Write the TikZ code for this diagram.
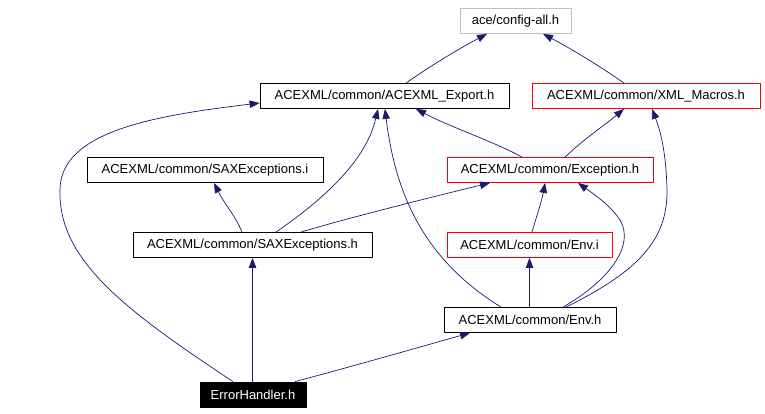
\documentclass[tikz,border=0pt]{standalone}
\usepackage{fontspec}
\setmainfont{Liberation Sans}
\usetikzlibrary{arrows.meta}
\definecolor{edgeblue}{RGB}{25,25,112}
\definecolor{extgray}{RGB}{191,191,191}
\begin{document}
\begin{tikzpicture}[x=1pt, y=-1pt, font=\fontsize{13}{15}\selectfont, line join=round,
		>={Triangle[length=10pt,width=7.5pt]},
		file/.style={draw=black, line width=0.8pt, minimum height=25pt, inner sep=0pt},
		redfile/.style={file, draw=red},
		extfile/.style={file, draw=extgray},
		mainfile/.style={file, fill=black, text=white},
		dep/.style={->, edgeblue, line width=0.7pt}]
	\useasboundingbox (0,0) rectangle (765,413);
	% files
	\node[extfile, minimum width=111pt] (cfg) at (515.5,21) {ace/config-all.h};
	\node[file, minimum width=249pt] (export) at (384.5,96) {ACEXML/common/ACEXML\_Export.h};
	\node[redfile, minimum width=228pt] (macros) at (646,96) {ACEXML/common/XML\_Macros.h};
	\node[file, minimum width=236pt] (saxi) at (205,170) {ACEXML/common/SAXExceptions.i};
	\node[redfile, minimum width=206pt] (exc) at (550,170) {ACEXML/common/Exception.h};
	\node[file, minimum width=239pt] (saxh) at (252.5,245) {ACEXML/common/SAXExceptions.h};
	\node[redfile, minimum width=165pt] (envi) at (529.5,245) {ACEXML/common/Env.i};
	\node[file, minimum width=172pt] (envh) at (530,320) {ACEXML/common/Env.h};
	\node[mainfile, minimum width=106pt] (eh) at (253,394.5) {ErrorHandler.h};
	% includes
	\draw[dep] ([xshift=21.5pt]export.north) .. controls (430,66) and (462,47) .. ([xshift=-28.5pt]cfg.south);
	\draw[dep] ([xshift=-22pt]macros.north) .. controls (600,66) and (568,47) .. ([xshift=27.5pt]cfg.south);
	\draw[dep] ([xshift=-20pt]eh.north) .. controls (125,310) and (58,260) .. (60,190)
		.. controls (60,130) and (160,115) .. ([yshift=-7pt]export.west);
	\draw[dep] ([xshift=23.5pt]saxh.north) .. controls (315,205) and (365,165) .. ([xshift=-6.5pt]export.south);
	\draw[dep] ([xshift=-29pt]envh.north) .. controls (428,262) and (396,200) .. ([xshift=0.5pt]export.south);
	\draw[dep] ([xshift=-28pt]exc.north) .. controls (495,142) and (450,127) .. ([xshift=31.5pt]export.south);
	\draw[dep] ([xshift=15pt]exc.north) .. controls (585,138) and (605,125) .. ([xshift=-22pt]macros.south);
	\draw[dep] ([xshift=36pt]envh.north) .. controls (630,275) and (668,245) .. (667,190)
		.. controls (666,150) and (660,130) .. ([xshift=6pt]macros.south);
	\draw[dep] ([xshift=-10.5pt]saxh.north) .. controls (235,215) and (225,205) .. ([xshift=9pt]saxi.south);
	\draw[dep] ([xshift=48.5pt]saxh.north) .. controls (340,220) and (440,195) .. ([xshift=-60pt]exc.south);
	\draw[dep] ([xshift=2.5pt]envi.north) .. controls (537,215) and (542,200) .. ([xshift=-5pt]exc.south);
	\draw[dep] ([xshift=33pt]envh.north) .. controls (610,280) and (635,245) .. (620,220)
		.. controls (610,205) and (595,195) .. ([xshift=28pt]exc.south);
	\draw[dep] (envh.north -| envi.south) -- (envi.south);
	\draw[dep] (eh.north -| saxh.south) -- (saxh.south);
	\draw[dep] ([xshift=42pt]eh.north) .. controls (350,367) and (420,347) .. ([xshift=-60pt]envh.south);
\end{tikzpicture}
\end{document}
